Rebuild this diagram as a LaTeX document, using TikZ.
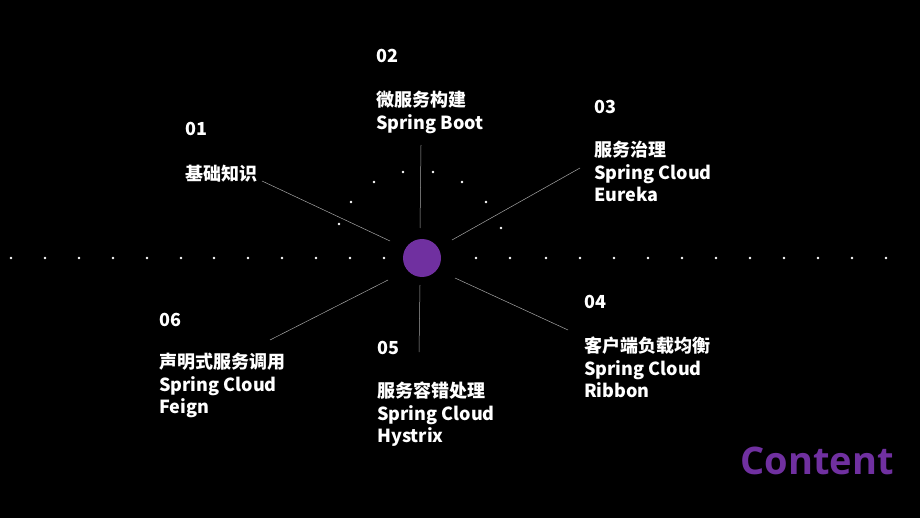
\documentclass[tikz,border=0pt]{standalone}
\usepackage{fontspec}
\setmainfont{Open Sans}
\newfontfamily\cjk{Noto Sans CJK SC}
\definecolor{violet}{HTML}{7030A0}
\begin{document}
\begin{tikzpicture}[x=1pt,y=-1pt,
        lbl/.style={anchor=west, text=white, font=\cjk\bfseries\fontsize{18}{22.5}\selectfont, inner sep=0pt, align=left},
        ray/.style={draw=gray!70, line width=0.5pt},
        dot/.style={fill=white, circle, inner sep=0pt, minimum size=2.6pt},
    ]
    \fill[black] (0,0) rectangle (920,518);
    \useasboundingbox (0,0) rectangle (920,518);
    % dotted row
    \foreach \x in {11,45,79,113,147,181,214,248,282,316,350,384,476,510,546,580,614,648,682,716,750,784,818,852,886}
        \node[dot] at (\x,258) {};
    % dotted arc
    \foreach \x/\y in {339/224,351/202,374/182,403/172,433/172,462/182,486/202,501/228}
        \node[dot] at (\x,\y) {};
    \node[circle, fill=violet, minimum size=38pt, inner sep=0pt] (hub) at (422,258) {};
    % rays
    \coordinate (r1a) at (262,181); \coordinate (r1b) at (390,241);
    \coordinate (r2a) at (421,145); \coordinate (r2b) at (420,228);
    \coordinate (r3a) at (580,168); \coordinate (r3b) at (452,240);
    \coordinate (r4a) at (568,330); \coordinate (r4b) at (455,278);
    \coordinate (r5a) at (419,352); \coordinate (r5b) at (420,285);
    \coordinate (r6a) at (270,340); \coordinate (r6b) at (388,280);
    \foreach \i in {1,...,6}
        \draw[ray] (r\i a) -- (r\i b);
    % labels
    \node[lbl] (n01) at (185,129) {01};
    \node[lbl] (t01) at (185,174) {基础知识};
    \node[lbl] (n02) at (376,56) {02};
    \node[lbl, anchor=north west] (t02) at (376,91) {微服务构建\\Spring Boot};
    \node[lbl] (n03) at (594,107) {03};
    \node[lbl, anchor=north west] (t03) at (594,141) {服务治理\\Spring Cloud\\Eureka};
    \node[lbl] (n04) at (584,302) {04};
    \node[lbl, anchor=north west] (t04) at (584,337) {客户端负载均衡\\Spring Cloud\\Ribbon};
    \node[lbl] (n05) at (377,348) {05};
    \node[lbl, anchor=north west] (t05) at (377,382) {服务容错处理\\Spring Cloud\\Hystrix};
    \node[lbl] (n06) at (159,320) {06};
    \node[lbl, anchor=north west] (t06) at (159,353) {声明式服务调用\\Spring Cloud\\Feign};
    \node[anchor=east, text=violet, font=\bfseries\fontsize{38}{38}\selectfont, inner sep=0pt] (content) at (894,461) {Content};
\end{tikzpicture}
\end{document}
